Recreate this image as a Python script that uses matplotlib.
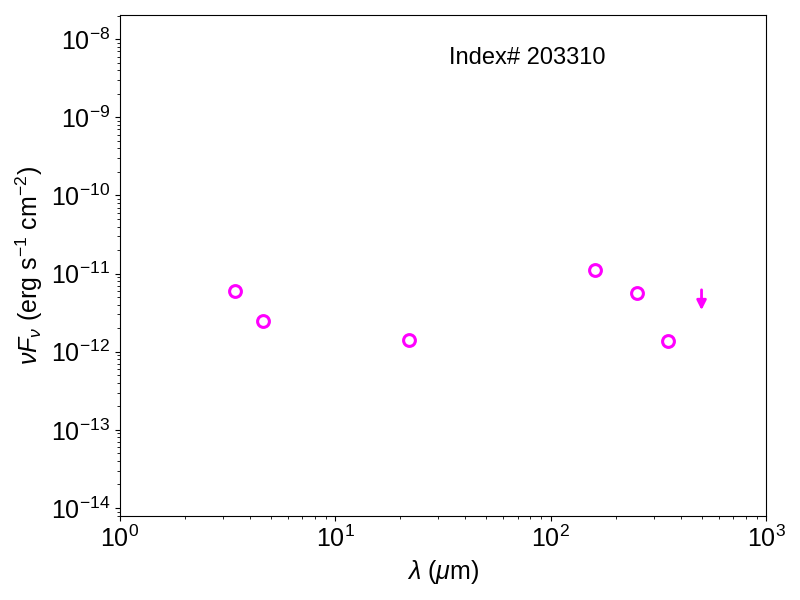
import matplotlib
matplotlib.use("Agg")
import matplotlib.pyplot as plt
from matplotlib.patches import FancyArrowPatch

plt.rcParams['font.family'] = ['Liberation Sans', 'DejaVu Sans']
plt.rcParams['mathtext.fontset'] = 'custom'
plt.rcParams['mathtext.rm'] = 'Liberation Sans'
plt.rcParams['mathtext.it'] = 'Liberation Sans:italic'
plt.rcParams['mathtext.bf'] = 'Liberation Sans:bold'

# photometry (micron, erg s^-1 cm^-2)
wave = [3.4, 4.6, 22.0, 160.0, 250.0, 350.0]
flux = [6.0e-12, 2.5e-12, 1.4e-12, 1.1e-11, 5.7e-12, 1.38e-12]

# upper limit
ul_wave = [500.0]
ul_flux = [6.2e-12]

label = "Index# 203310"

fig, ax = plt.subplots(figsize=(8, 6), dpi=100)
fig.subplots_adjust(left=0.15, right=0.958, top=0.975, bottom=0.14)

ax.plot(wave, flux, 'o', mfc='none', mec='magenta', mew=2.2, ms=8.5, ls='none')

for xw, yf in zip(ul_wave, ul_flux):
    arr = FancyArrowPatch((xw, yf), (xw, yf * 0.55), arrowstyle='-|>',
                          color='magenta', lw=2, mutation_scale=14,
                          shrinkA=0, shrinkB=0)
    ax.add_patch(arr)

ax.set_xscale('log')
ax.set_yscale('log')
ax.set_xlim(1, 1000)
ax.set_ylim(7.9e-15, 2.04e-8)

ax.text(0.63, 0.915, label, transform=ax.transAxes, ha='center', va='center',
        fontsize=17)

ax.set_xlabel(r'$\lambda$ ($\mu$m)', fontsize=18)
ax.set_ylabel(r'$\nu F_\nu$ (erg s$^{-1}$ cm$^{-2}$)', fontsize=18)
ax.tick_params(axis='both', which='major', labelsize=18)

plt.savefig('out.png')
